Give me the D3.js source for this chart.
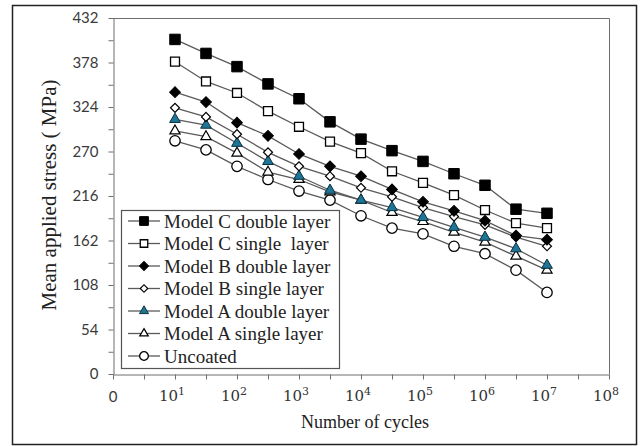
<!DOCTYPE html>
<html>
<head>
<meta charset="utf-8">
<script src="https://cdn.jsdelivr.net/npm/d3@7"></script>
<style>
    body { margin: 0; background: #fff; }
    svg { display: block; }
</style>
</head>
<body>
<div id="chart"></div>
<script>
// Exponents of the number of cycles (10^1 ... 10^7, half decades)
var logCycles = [1, 1.5, 2, 2.5, 3, 3.5, 4, 4.5, 5, 5.5, 6, 6.5, 7];

var seriesNames = [
    "Model C double layer",
    "Model C single  layer",
    "Model B double layer",
    "Model B single layer",
    "Model A double layer",
    "Model A single layer",
    "Uncoated"
];

// Mean applied stress (MPa)
var modelCDouble = [406, 389, 373, 352, 334, 306, 285, 271, 258, 243, 229, 200, 195];
var modelCSingle = [379, 355, 341, 319, 300, 282, 268, 246, 232, 217, 199, 183, 177];
var modelBDouble = [342, 330, 305, 289, 267, 252, 240, 224, 209, 198, 186, 168, 163];
var modelBSingle = [323, 312, 291, 269, 252, 240, 226, 215, 202, 191, 181, 166, 155];
var modelADouble = [309, 302, 280, 258, 240, 223, 211, 202, 190, 178, 166, 152, 132];
var modelASingle = [295, 288, 268, 245, 236, 221, 211, 196, 185, 172, 160, 143, 126];
var uncoated     = [283, 272, 252, 236, 222, 211, 192, 177, 170, 155, 146, 126, 99];

var yTicks = [0, 54, 108, 162, 216, 270, 324, 378, 432];
var xTickExps = [0, 1, 2, 3, 4, 5, 6, 7, 8];

var allValues = [modelCDouble, modelCSingle, modelBDouble, modelBSingle, modelADouble, modelASingle, uncoated];

var w = 640, h = 446;
var plotLeft = 113, plotRight = 609, plotTop = 18, plotBottom = 374;

var svg = d3.select("#chart").append("svg")
    .attr("width", w)
    .attr("height", h);

// figure border
svg.append("rect")
    .attr("x", 12.5).attr("y", 5.5)
    .attr("width", 624).attr("height", 439)
    .attr("fill", "none")
    .attr("stroke", "#222")
    .attr("stroke-width", 1.5);

var x = d3.scaleLinear().domain([0, 8]).range([plotLeft, plotRight]);
var y = d3.scaleLinear().domain([0, 432]).range([plotBottom, plotTop]);

var axisColor = "#6e6e6e";

// plot frame (top and right)
svg.append("path")
    .attr("d", "M" + plotLeft + "," + (plotTop + 0.5) + "H" + (plotRight + 0.5) + "V" + plotBottom)
    .attr("fill", "none")
    .attr("stroke", axisColor)
    .attr("stroke-width", 1);

// y axis, minor ticks every 27
var yAxis = svg.append("g")
    .attr("transform", "translate(" + (plotLeft + 0.5) + ",0)")
    .call(d3.axisLeft(y).tickValues(d3.range(0, 433, 27)).tickSize(5).tickPadding(10).tickSizeOuter(0)
        .tickFormat(function(d) { return yTicks.indexOf(d) >= 0 ? d : ""; }));
yAxis.select(".domain").attr("stroke", axisColor);
yAxis.selectAll(".tick line").attr("stroke", axisColor);
yAxis.selectAll(".tick text")
    .attr("font-family", "Lato, 'Open Sans', sans-serif")
    .attr("font-size", 15)
    .attr("fill", "#3a3a3a");

// x axis, ticks every half decade
var xAxis = svg.append("g")
    .attr("transform", "translate(0," + (plotBottom + 0.5) + ")")
    .call(d3.axisBottom(x).tickValues(d3.range(0, 8.01, 0.5)).tickSize(5).tickSizeOuter(0).tickFormat(""));
xAxis.select(".domain").attr("stroke", axisColor);
xAxis.selectAll(".tick line").attr("stroke", axisColor);

// x tick labels: "0" then powers of ten
var xLabels = svg.append("g");
xTickExps.forEach(function(e) {
    if (e === 0) {
        xLabels.append("text")
            .attr("x", x(e))
            .attr("y", 402)
            .attr("text-anchor", "middle")
            .attr("font-family", "Lato, 'Open Sans', sans-serif")
            .attr("font-size", 15)
            .attr("fill", "#3a3a3a")
            .text("0");
    } else {
        var t = xLabels.append("text")
            .attr("x", x(e) - 3)
            .attr("y", 401)
            .attr("text-anchor", "middle")
            .attr("font-family", "'DejaVu Serif', serif")
            .attr("font-size", 15)
            .attr("fill", "#333");
        t.append("tspan").text("10");
        t.append("tspan").attr("dy", -6).attr("font-size", 11).text(e);
    }
});

// axis titles
svg.append("text")
    .attr("x", 365)
    .attr("y", 428)
    .attr("text-anchor", "middle")
    .attr("font-family", "'Liberation Serif', 'Times New Roman', serif")
    .attr("font-size", 18)
    .attr("fill", "#222")
    .text("Number of cycles");

svg.append("text")
    .attr("transform", "translate(56,195) rotate(-90)")
    .attr("text-anchor", "middle")
    .attr("font-family", "'Liberation Serif', 'Times New Roman', serif")
    .attr("font-size", 21)
    .attr("fill", "#222")
    .text("Mean applied stress ( MPa)");

// marker styles per series
var markers = [
    { type: d3.symbolSquare,   size: 110, fill: "#000",    stroke: "#000",    sw: 1,   rot: 0 },
    { type: d3.symbolSquare,   size: 80,  fill: "#fff",    stroke: "#000",    sw: 1.3, rot: 0 },
    { type: d3.symbolSquare,   size: 58,  fill: "#000",    stroke: "#000",    sw: 1,   rot: 45 },
    { type: d3.symbolSquare,   size: 40,  fill: "#fff",    stroke: "#000",    sw: 1.2, rot: 45 },
    { type: d3.symbolTriangle, size: 50,  fill: "#1f7595", stroke: "#0a2f3f", sw: 1,   rot: 0 },
    { type: d3.symbolTriangle, size: 45,  fill: "#fff",    stroke: "#000",    sw: 1.2, rot: 0 },
    { type: d3.symbolCircle,   size: 85,  fill: "#fff",    stroke: "#000",    sw: 1.3, rot: 0 }
];

var line = d3.line()
    .x(function(d, i) { return x(logCycles[i]); })
    .y(function(d) { return y(d); });

// draw from bottom series up so upper markers sit on top
for (var s = allValues.length - 1; s >= 0; s--) {
    var g = svg.append("g");
    g.append("path")
        .attr("d", line(allValues[s]))
        .attr("fill", "none")
        .attr("stroke", "#5a5a5a")
        .attr("stroke-width", 1.3);
    var m = markers[s];
    g.selectAll("path.mk")
        .data(allValues[s])
        .enter()
        .append("path")
        .attr("class", "mk")
        .attr("d", d3.symbol().type(m.type).size(m.size))
        .attr("transform", function(d, i) {
            return "translate(" + x(logCycles[i]) + "," + y(d) + ") rotate(" + m.rot + ")";
        })
        .attr("fill", m.fill)
        .attr("stroke", m.stroke)
        .attr("stroke-width", m.sw);
}

// legend
var legend = svg.append("g");
legend.append("rect")
    .attr("x", 121.5).attr("y", 210.5)
    .attr("width", 218).attr("height", 158)
    .attr("fill", "#fff")
    .attr("stroke", "#555")
    .attr("stroke-width", 1.2);

seriesNames.forEach(function(name, i) {
    var ly = 221 + i * 22.5;
    var m = markers[i];
    legend.append("line")
        .attr("x1", 128).attr("x2", 160)
        .attr("y1", ly).attr("y2", ly)
        .attr("stroke", "#5a5a5a")
        .attr("stroke-width", 1.3);
    legend.append("path")
        .attr("d", d3.symbol().type(m.type).size(m.size * 0.7))
        .attr("transform", "translate(144," + ly + ") rotate(" + m.rot + ")")
        .attr("fill", m.fill)
        .attr("stroke", m.stroke)
        .attr("stroke-width", m.sw);
    legend.append("text")
        .attr("x", 164)
        .attr("y", ly + 6.5)
        .attr("font-family", "'Liberation Serif', 'Times New Roman', serif")
        .attr("font-size", 19)
        .attr("fill", "#222")
        .style("white-space", "pre")
        .text(name);
});
</script>
</body>
</html>
